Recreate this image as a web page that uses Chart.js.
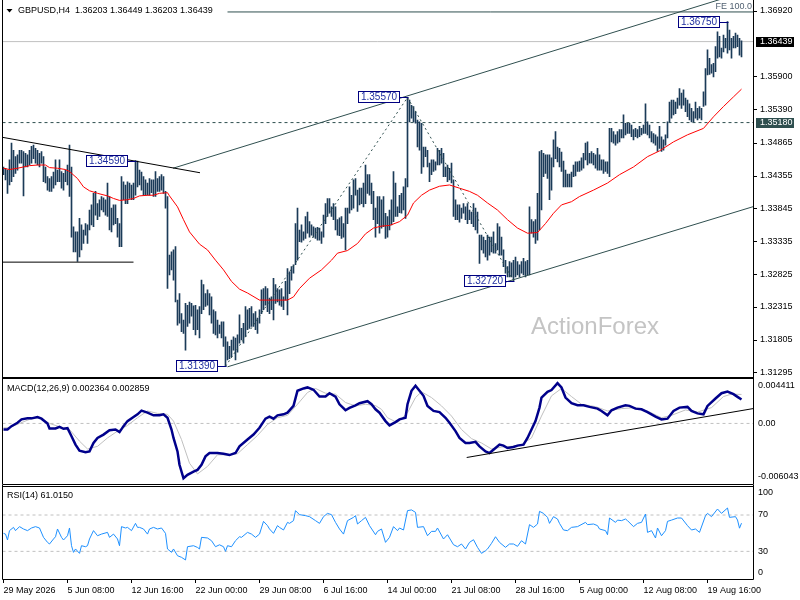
<!DOCTYPE html>
<html><head><meta charset="utf-8">
<script src="https://cdn.jsdelivr.net/npm/chart.js@4/dist/chart.umd.min.js"></script>
<style>
html,body{margin:0;padding:0;background:#fff;width:800px;height:600px;overflow:hidden}
canvas{position:absolute;left:0}
</style></head><body>
<canvas id="cMain" width="800" height="378" style="top:0px"></canvas>
<canvas id="cMacd" width="800" height="109" style="top:377px"></canvas>
<canvas id="cRsi" width="800" height="115" style="top:485px"></canvas>
<script>
// ---------- DATA ----------
const titleText = 'GBPUSD,H4  1.36203 1.36449 1.36203 1.36439';
const macdTitle = 'MACD(12,26,9) 0.002364 0.002859';
const rsiTitle = 'RSI(14) 61.0150';
const watermark = 'ActionForex';

const xTickIdx = [0,32,64,96,128,160,192,224,256,288,320,352];
const xTickLabels = ['29 May 2026','5 Jun 08:00','12 Jun 16:00','22 Jun 00:00','29 Jun 08:00','6 Jul 16:00','14 Jul 00:00','21 Jul 08:00','28 Jul 16:00','5 Aug 00:00','12 Aug 08:00','19 Aug 16:00'];

const priceTicks = [1.36920,1.35900,1.35390,1.34865,1.34355,1.33845,1.33335,1.32825,1.32315,1.31805,1.31295];
const currentPrice = 1.36439;
const levelPrice = 1.35180;
const feLevel = 1.3690;

const barHigh = [
1.3449,1.3447,1.3444,1.3460,1.3486,1.3475,1.3465,1.3468,1.3475,1.3475,
1.3473,1.3470,1.3468,1.3475,1.3481,1.3483,1.3478,1.3475,1.3470,1.3473,
1.3465,1.3449,1.3434,1.3431,1.3434,1.3441,1.3460,1.3444,1.3460,1.3442,
1.3439,1.3444,1.3452,1.3483,1.3449,1.3356,1.3348,1.3348,1.3369,1.3359,
1.3351,1.3361,1.3359,1.3382,1.3390,1.3408,1.3411,1.3392,1.3398,1.3403,
1.3401,1.3398,1.3424,1.3403,1.3385,1.3390,1.3390,1.3369,1.3361,1.3434,
1.3426,1.3421,1.3426,1.3424,1.3421,1.3424,1.3459,1.3458,1.3444,1.3441,
1.3434,1.3429,1.3424,1.3431,1.3429,1.3429,1.3442,1.3431,1.3434,1.3437,
1.3434,1.3411,1.3403,1.3312,1.3317,1.3320,1.3325,1.3242,1.3252,1.3221,
1.3211,1.3237,1.3234,1.3239,1.3237,1.3233,1.3234,1.3227,1.3232,1.3273,
1.3266,1.3252,1.3258,1.3252,1.3247,1.3227,1.3224,1.3211,1.3203,1.3208,
1.3208,1.3185,1.3177,1.3170,1.3180,1.3185,1.3183,1.3188,1.3219,1.3198,
1.3206,1.3232,1.3227,1.3229,1.3232,1.3221,1.3224,1.3214,1.3227,1.3258,
1.3260,1.3263,1.3260,1.3245,1.3247,1.3276,1.3266,1.3260,1.3258,1.3260,
1.3247,1.3271,1.3291,1.3286,1.3294,1.3297,1.3361,1.3385,1.3351,1.3359,
1.3348,1.3372,1.3379,1.3364,1.3359,1.3356,1.3354,1.3355,1.3354,1.3348,
1.3374,1.3392,1.3400,1.3400,1.3387,1.3392,1.3387,1.3367,1.3370,1.3372,
1.3361,1.3385,1.3385,1.3418,1.3405,1.3429,1.3431,1.3413,1.3416,1.3416,
1.3424,1.3452,1.3437,1.3437,1.3424,1.3411,1.3385,1.3403,1.3403,1.3398,
1.3403,1.3377,1.3372,1.3382,1.3398,1.3442,1.3424,1.3387,1.3405,1.3408,
1.3418,1.3431,1.3557,1.3553,1.3545,1.3543,1.3535,1.3522,1.3519,1.3517,
1.3480,1.3480,1.3475,1.3455,1.3460,1.3460,1.3457,1.3478,1.3475,1.3478,
1.3470,1.3449,1.3452,1.3447,1.3455,1.3429,1.3398,1.3390,1.3390,1.3385,
1.3392,1.3387,1.3392,1.3382,1.3379,1.3392,1.3385,1.3379,1.3343,1.3343,
1.3340,1.3335,1.3343,1.3340,1.3340,1.3348,1.3330,1.3361,1.3356,1.3340,
1.3320,1.3304,1.3294,1.3302,1.3300,1.3304,1.3309,1.3302,1.3297,1.3302,
1.3307,1.3302,1.3304,1.3387,1.3367,1.3364,1.3367,1.3408,1.3473,1.3475,
1.3470,1.3468,1.3468,1.3468,1.3463,1.3491,1.3504,1.3480,1.3478,1.3472,
1.3458,1.3444,1.3438,1.3438,1.3441,1.3452,1.3457,1.3457,1.3458,1.3463,
1.3470,1.3486,1.3488,1.3470,1.3473,1.3470,1.3468,1.3478,1.3468,1.3460,
1.3460,1.3457,1.3457,1.3509,1.3509,1.3504,1.3499,1.3504,1.3507,1.3507,
1.3530,1.3517,1.3517,1.3517,1.3514,1.3507,1.3509,1.3507,1.3512,1.3509,
1.3514,1.3547,1.3519,1.3514,1.3504,1.3501,1.3499,1.3496,1.3512,1.3496,
1.3491,1.3499,1.3519,1.3550,1.3553,1.3553,1.3550,1.3556,1.3571,1.3564,
1.3569,1.3556,1.3553,1.3547,1.3540,1.3535,1.3550,1.3540,1.3543,1.3540,
1.3566,1.3602,1.3631,1.3618,1.3608,1.3610,1.3636,1.3659,1.3652,1.3634,
1.3654,1.3649,1.3675,1.3662,1.3649,1.3652,1.3657,1.3654,1.3649,1.3645];

const barLow = [
1.3437,1.3429,1.3408,1.3421,1.3426,1.3434,1.3439,1.3444,1.3455,1.3455,
1.3404,1.3449,1.3449,1.3452,1.3455,1.3462,1.3455,1.3452,1.3449,1.3455,
1.3426,1.3424,1.3413,1.3411,1.3411,1.3416,1.3421,1.3426,1.3426,1.3416,
1.3413,1.3426,1.3421,1.3403,1.3340,1.3317,1.3317,1.3302,1.3309,1.3320,
1.3330,1.3343,1.3330,1.3351,1.3359,1.3356,1.3374,1.3367,1.3372,1.3382,
1.3379,1.3374,1.3372,1.3351,1.3348,1.3359,1.3361,1.3340,1.3325,1.3325,
1.3398,1.3392,1.3392,1.3400,1.3398,1.3398,1.3405,1.3418,1.3421,1.3413,
1.3405,1.3405,1.3405,1.3405,1.3409,1.3403,1.3403,1.3411,1.3411,1.3413,
1.3408,1.3385,1.3260,1.3281,1.3289,1.3273,1.3239,1.3203,1.3206,1.3193,
1.3190,1.3164,1.3201,1.3206,1.3217,1.3196,1.3188,1.3196,1.3183,1.3221,
1.3227,1.3232,1.3234,1.3219,1.3206,1.3190,1.3188,1.3183,1.3190,1.3183,
1.3170,1.3139,1.3149,1.3151,1.3154,1.3164,1.3149,1.3161,1.3175,1.3180,
1.3175,1.3185,1.3196,1.3198,1.3201,1.3201,1.3196,1.3190,1.3206,1.3221,
1.3227,1.3234,1.3224,1.3221,1.3227,1.3211,1.3237,1.3239,1.3234,1.3232,
1.3227,1.3242,1.3219,1.3252,1.3273,1.3284,1.3297,1.3304,1.3333,1.3332,
1.3335,1.3338,1.3346,1.3340,1.3343,1.3340,1.3338,1.3335,1.3335,1.3330,
1.3340,1.3361,1.3372,1.3377,1.3372,1.3367,1.3351,1.3343,1.3342,1.3338,
1.3340,1.3320,1.3361,1.3377,1.3382,1.3385,1.3405,1.3380,1.3390,1.3392,
1.3387,1.3392,1.3408,1.3405,1.3392,1.3367,1.3340,1.3361,1.3346,1.3354,
1.3356,1.3338,1.3340,1.3351,1.3359,1.3364,1.3372,1.3372,1.3378,1.3377,
1.3382,1.3369,1.3418,1.3519,1.3525,1.3519,1.3517,1.3480,1.3475,1.3439,
1.3449,1.3465,1.3449,1.3426,1.3437,1.3442,1.3444,1.3452,1.3452,1.3455,
1.3434,1.3434,1.3426,1.3429,1.3424,1.3372,1.3367,1.3367,1.3363,1.3369,
1.3377,1.3367,1.3361,1.3367,1.3361,1.3356,1.3351,1.3346,1.3299,1.3320,
1.3315,1.3309,1.3304,1.3312,1.3317,1.3315,1.3315,1.3320,1.3312,1.3312,
1.3294,1.3284,1.3278,1.3278,1.3278,1.3272,1.3278,1.3281,1.3278,1.3284,
1.3281,1.3278,1.3281,1.3281,1.3346,1.3340,1.3330,1.3335,1.3351,1.3382,
1.3434,1.3439,1.3431,1.3398,1.3413,1.3449,1.3462,1.3457,1.3449,1.3442,
1.3418,1.3418,1.3418,1.3418,1.3418,1.3434,1.3435,1.3442,1.3442,1.3444,
1.3447,1.3460,1.3452,1.3455,1.3455,1.3452,1.3447,1.3444,1.3444,1.3444,
1.3439,1.3442,1.3439,1.3434,1.3488,1.3486,1.3483,1.3486,1.3488,1.3494,
1.3494,1.3499,1.3501,1.3501,1.3496,1.3491,1.3496,1.3494,1.3496,1.3499,
1.3501,1.3501,1.3499,1.3494,1.3488,1.3486,1.3483,1.3473,1.3478,1.3473,
1.3475,1.3483,1.3494,1.3519,1.3525,1.3530,1.3532,1.3540,1.3545,1.3540,
1.3545,1.3535,1.3527,1.3522,1.3519,1.3519,1.3525,1.3522,1.3525,1.3522,
1.3543,1.3545,1.3592,1.3593,1.3595,1.3589,1.3597,1.3618,1.3620,1.3618,
1.3628,1.3634,1.3626,1.3631,1.3618,1.3634,1.3634,1.3636,1.3623,1.3620];

const maLine = [[0,1.3447],[3,1.3445],[7,1.3447],[10,1.3449],[13,1.3451],[17,1.3452],[21,1.3452],[23,1.3448],[27,1.3447],[31,1.3445],[33,1.3442],[37,1.3431],[40,1.3418],[43,1.3412],[47,1.3408],[52,1.3404],[55,1.3400],[58,1.3397],[62,1.3398],[65,1.3400],[68,1.3404],[72,1.3405],[75,1.3405],[78,1.3408],[82,1.3409],[83,1.3404],[87,1.3387],[90,1.3367],[93,1.3348],[98,1.3329],[102,1.3320],[106,1.3304],[110,1.3289],[114,1.3271],[118,1.3259],[122,1.3253],[128,1.3242],[135,1.3242],[142,1.3242],[145,1.3247],[148,1.3260],[153,1.3276],[159,1.3289],[164,1.3304],[167,1.3315],[172,1.3319],[177,1.3330],[181,1.3345],[185,1.3354],[189,1.3357],[193,1.3358],[198,1.3364],[202,1.3374],[205,1.3393],[209,1.3405],[213,1.3413],[218,1.3419],[223,1.3421],[228,1.3416],[233,1.3411],[237,1.3405],[242,1.3393],[247,1.3382],[252,1.3367],[257,1.3354],[262,1.3346],[267,1.3347],[271,1.3361],[275,1.3377],[279,1.3390],[284,1.3395],[288,1.3403],[295,1.3413],[302,1.3424],[308,1.3437],[315,1.3449],[322,1.3465],[328,1.3474],[335,1.3488],[342,1.3499],[350,1.3509],[355,1.3527],[360,1.3543],[365,1.3558],[369,1.3570]];

const swingLabels = [[66,1.34590],[111,1.31390],[202,1.35570],[255,1.32720],[362,1.36750]];

const downTrend = [[-0.4,1.3495],[98.25,1.3440]];
const supportLine = [[-0.5,1.3301],[65,1.3301]];
const channelTop = [[84.75,1.3447],[365,1.37159]];
const channelBottom = [[112,1.31382],[374.75,1.33872]];
const zigzag = [[111,1.3139],[202,1.3557],[255,1.3272]];
const feLine = [[112,feLevel],[374.75,feLevel]];

const macdMain = [[0,-0.0006],[2,-0.0006],[4,-0.00027],[7,0.00007],[9,0.0004],[12,0.0005],[14,0.0005],[17,0.00063],[19,0.00047],[22,0],[23,-0.0005],[26,-0.0005],[28,-0.00033],[30,-0.00053],[32,-0.00047],[34,-0.00126],[36,-0.00209],[38,-0.00269],[41,-0.00285],[43,-0.00276],[45,-0.00193],[47,-0.00143],[50,-0.0011],[53,-0.00067],[56,-0.0006],[58,-0.00086],[60,-0.00027],[62,0.00023],[65,0.00063],[67,0.0009],[69,0.00126],[72,0.00106],[75,0.0008],[78,0.0008],[80,0.0009],[82,0.00056],[84,-0.0006],[85,-0.00143],[87,-0.00276],[88,-0.00408],[90,-0.00541],[92,-0.00507],[95,-0.00475],[97,-0.00458],[99,-0.00408],[101,-0.00325],[103,-0.00292],[107,-0.00292],[110,-0.00299],[113,-0.00312],[116,-0.00292],[118,-0.00226],[122,-0.00159],[125,-0.0011],[128,-0.00043],[131,0.00047],[133,0.00067],[135,0.00047],[137,0.0008],[140,0.0009],[142,0.00106],[145,0.00173],[147,0.00322],[150,0.00345],[152,0.00355],[155,0.00332],[158,0.00265],[161,0.00265],[163,0.00298],[166,0.00265],[168,0.00189],[171,0.0013],[173,0.00153],[176,0.00179],[178,0.00199],[182,0.00219],[184,0.00189],[186,0.00139],[188,0.00106],[191,0.00023],[193,-0.0002],[196,0.00013],[198,0.0004],[201,0.00056],[202,0.00189],[204,0.00322],[206,0.00372],[208,0.00322],[210,0.00272],[212,0.00173],[215,0.00123],[218,0.00112],[221,0.00056],[223,0.00007],[226,-0.00076],[228,-0.00143],[231,-0.00193],[233,-0.00193],[236,-0.00182],[238,-0.00226],[241,-0.00276],[243,-0.00292],[246,-0.00242],[248,-0.00209],[250,-0.00219],[252,-0.00242],[255,-0.00233],[257,-0.00219],[260,-0.00209],[262,-0.00143],[264,-0.0006],[266,0.00023],[268,0.00156],[269,0.00255],[272,0.00312],[274,0.00329],[277,0.00398],[279,0.00354],[281,0.00255],[284,0.00199],[287,0.00179],[290,0.00179],[293,0.00163],[297,0.00146],[299,0.00123],[302,0.0008],[304,0.0013],[307,0.00156],[311,0.00179],[313,0.00173],[316,0.00146],[319,0.00139],[322,0.00112],[326,0.00067],[329,0.0004],[332,0.00047],[335,0.00123],[338,0.00156],[342,0.00163],[344,0.00123],[347,0.00099],[350,0.0009],[352,0.00173],[356,0.00246],[359,0.00298],[362,0.00315],[365,0.00289],[367,0.00262],[369,0.00236]];

const macdSignal = [[0,-0.00043],[3,-0.00043],[8,0],[13,0.0004],[18,0.00056],[23,0],[28,-0.00033],[33,-0.0006],[38,-0.00175],[42,-0.00252],[47,-0.00226],[52,-0.00143],[57,-0.00076],[62,-0.0002],[67,0.00056],[72,0.00123],[77,0.00099],[82,0.0009],[85,0.00023],[89,-0.00159],[93,-0.00392],[97,-0.00498],[102,-0.00424],[107,-0.00309],[112,-0.00309],[117,-0.00299],[122,-0.00209],[127,-0.00119],[132,-0.0001],[137,0.00056],[142,0.0008],[147,0.00189],[152,0.00305],[156,0.00345],[161,0.00298],[166,0.00289],[171,0.00206],[176,0.00173],[181,0.00189],[186,0.00176],[189,0.00139],[192,0.00056],[197,0.00007],[202,0.00106],[206,0.00255],[209,0.00312],[214,0.00255],[219,0.00173],[224,0.00073],[229,-0.0006],[234,-0.0015],[239,-0.00193],[244,-0.00252],[249,-0.00233],[254,-0.00226],[259,-0.00209],[264,-0.00143],[269,0.00073],[274,0.00272],[279,0.00345],[284,0.00265],[289,0.00189],[296,0.00166],[302,0.00123],[309,0.00146],[316,0.00156],[322,0.00123],[329,0.00056],[334,0.0008],[341,0.00133],[347,0.00112],[354,0.00156],[360,0.00265],[364,0.00289],[369,0.00286]];

const macdTrend = [[231.6,-0.00336],[374.75,0.00146]];
const macdMin = -0.006043, macdMax = 0.004411;

const rsiLine = [[0,49.8],[1,49],[2,42.5],[3,52.8],[5,56.4],[6,52.8],[8,57.2],[10,54.6],[12,52.8],[14,55.7],[16,57.2],[18,55.7],[20,45.4],[22,39.9],[23,38.1],[25,43.6],[26,46.1],[27,54.6],[29,45.4],[30,42.5],[32,47.2],[33,55.7],[34,36.2],[35,28.9],[36,32.6],[38,27.8],[39,36.2],[41,35.1],[42,36.2],[43,43.6],[45,52.8],[47,47.2],[49,49],[52,50.9],[53,45.4],[55,49],[57,43.6],[58,36.2],[59,57.2],[61,55.7],[62,56.4],[64,52.8],[66,60.8],[67,56.4],[68,56.4],[70,54.6],[72,49],[73,54.6],[75,56.4],[77,54.6],[79,55.7],[81,49.8],[82,32.6],[84,28.9],[85,32.6],[87,25.2],[89,23.4],[91,20.5],[92,35.1],[95,36.2],[97,34.3],[98,32.6],[99,45.4],[102,44.7],[104,41.7],[106,35.1],[108,37.2],[110,35.1],[111,30],[112,36.2],[114,35.1],[116,41.7],[118,46.1],[119,45.4],[122,50.9],[124,49],[126,45.4],[128,49],[130,63],[132,58.3],[133,54.6],[135,49.8],[137,58.3],[138,56.4],[140,53.5],[142,61.9],[143,60.8],[145,63.8],[146,74.8],[148,70.4],[151,69.3],[153,68.2],[156,63.8],[158,60.8],[160,68.2],[162,71.8],[164,70.4],[166,61.9],[168,54.6],[170,49],[172,63.8],[175,67.4],[176,69.3],[177,60.1],[179,63.8],[181,67.4],[183,58.3],[186,48.3],[187,52],[189,54.6],[191,39.9],[193,45.4],[195,57.2],[197,52.8],[198,55.7],[200,53.5],[202,74.8],[204,75.6],[206,72.9],[207,56.4],[210,57.2],[212,47.2],[214,52],[216,52],[217,55.7],[220,43.6],[222,48.3],[225,37.3],[227,35.1],[229,38.1],[231,32.6],[233,39.9],[235,42.8],[237,34.4],[239,27.8],[241,30.7],[242,32.6],[244,38.8],[246,46.1],[248,39.9],[251,34.4],[253,38.1],[255,38.1],[257,35.5],[259,41.7],[261,38.1],[263,59.4],[265,56.4],[267,60.1],[268,74],[270,71.8],[272,67.4],[273,60.8],[275,68.2],[277,65.6],[278,60.8],[280,53.5],[282,52.8],[284,56.4],[287,57.2],[291,61.9],[292,59.4],[295,60.1],[297,58.3],[298,54.6],[301,52.8],[302,48.3],[303,66.7],[306,61.9],[307,64.4],[309,63.8],[311,65.6],[312,63.8],[315,57.2],[317,60.8],[319,61.9],[321,71.1],[322,50.9],[324,52.8],[326,44.7],[327,55.7],[329,47.2],[331,52.8],[332,63],[334,64.4],[337,66.7],[339,66.7],[342,58.3],[344,53.5],[346,54.6],[348,50.9],[351,69.3],[352,71.8],[354,68.2],[357,76.6],[359,71.8],[362,77.7],[363,67.4],[366,68.2],[367,64.5],[368,55.5],[369,61.0]];
const rsiTicks = [[100,'100'],[70,'70'],[30,'30'],[0,'0']];
const macdTicks = [[macdMax,'0.004411'],[0,'0.00'],[macdMin,'-0.006043']];

// ---------- HELPERS ----------
const FAM = '"Liberation Sans", Arial, sans-serif';
const AXIS_FONT = '9px ' + FAM;
Chart.defaults.font.family = FAM;
Chart.defaults.font.size = 9;
const XMIN = -0.5, XMAX = 374.75;
const P = arr => arr.map(([x, y]) => ({x, y}));
function lineDs(data, color, extra) {
  return Object.assign({type:'line', data, borderColor:color, borderWidth:1, pointRadius:0, tension:0, fill:false}, extra || {});
}
const hiddenX = {type:'linear', min:XMIN, max:XMAX, display:false, offset:false, bounds:'data', grid:{offset:false}};

function drawFrame(chart, sides) {
  const {ctx, chartArea:a} = chart;
  const l = Math.floor(a.left)+0.5, r = Math.floor(a.right)+0.5, t = Math.floor(a.top)+0.5, b = Math.floor(a.bottom)+0.5;
  ctx.save(); ctx.strokeStyle = '#000'; ctx.lineWidth = 1; ctx.beginPath();
  if (sides.includes('t')) { ctx.moveTo(l, t); ctx.lineTo(r, t); }
  if (sides.includes('b')) { ctx.moveTo(l, b); ctx.lineTo(r, b); }
  if (sides.includes('l')) { ctx.moveTo(l, 0); ctx.lineTo(l, b); }
  if (sides.includes('r')) { ctx.moveTo(r, 0); ctx.lineTo(r, b); }
  ctx.stroke(); ctx.restore();
}
function drawRightLabels(chart, items, opt) {
  const {ctx, chartArea:a} = chart; const ys = chart.scales.y;
  ctx.save(); ctx.font = AXIS_FONT; ctx.fillStyle = '#000'; ctx.strokeStyle = '#000'; ctx.lineWidth = 1;
  ctx.textAlign = 'left'; ctx.textBaseline = 'middle';
  for (const [v, t] of items) {
    let y = ys.getPixelForValue(v);
    y = Math.max(a.top + opt.top, Math.min(a.bottom - opt.bottom, y));
    if (opt.ticks) { const yy = Math.round(y) + 0.5; ctx.beginPath(); ctx.moveTo(a.right, yy); ctx.lineTo(a.right + 4, yy); ctx.stroke(); }
    ctx.fillText(t, a.right + opt.dx, y);
  }
  ctx.restore();
}

// ---------- MAIN CHART ----------
const mainDeco = {
  id: 'mainDeco',
  beforeDatasetsDraw(chart) {
    const {ctx} = chart;
    ctx.save(); ctx.font = '24px ' + FAM; ctx.fillStyle = '#c4c4c4';
    ctx.textAlign = 'center'; ctx.textBaseline = 'middle';
    ctx.fillText(watermark, 595, 327); ctx.restore();
  },
  afterDatasetsDraw(chart) {
    const {ctx} = chart; const xs = chart.scales.x, ys = chart.scales.y;
    ctx.save(); ctx.font = '10px ' + FAM; ctx.textAlign = 'center'; ctx.textBaseline = 'middle';
    for (const [i, p] of swingLabels) {
      const x = xs.getPixelForValue(i), y = Math.round(ys.getPixelForValue(p));
      const t = p.toFixed(5);
      const w = Math.round(ctx.measureText(t).width) + 6, h = 12;
      const right = Math.round(x - 8);
      ctx.strokeStyle = '#000080'; ctx.lineWidth = 1;
      ctx.beginPath(); ctx.moveTo(right, y + 0.5); ctx.lineTo(Math.round(x) + 0.5, y + 0.5); ctx.stroke();
      ctx.fillStyle = '#fff'; ctx.fillRect(right - w, y - h/2, w, h);
      ctx.strokeRect(right - w + 0.5, y - h/2 + 0.5, w - 1, h - 1);
      ctx.fillStyle = '#1f2fa0'; ctx.fillText(t, right - w/2, y + 0.5);
    }
    ctx.restore();
  },
  afterDraw(chart) {
    const {ctx, chartArea:a} = chart; const ys = chart.scales.y;
    drawFrame(chart, 'lrb');
    drawRightLabels(chart, priceTicks.map(v => [v, v.toFixed(5)]), {top:4, bottom:4, dx:7, ticks:true});
    ctx.save(); ctx.font = AXIS_FONT; ctx.textBaseline = 'middle'; ctx.textAlign = 'left';
    const boxes = [[currentPrice, '#000000'], [levelPrice, '#2f4f4f']];
    for (const [v, bg] of boxes) {
      const y = ys.getPixelForValue(v);
      ctx.fillStyle = bg; ctx.fillRect(a.right + 3, Math.round(y) - 5, 38, 10);
      ctx.fillStyle = '#fff'; ctx.fillText(v.toFixed(5), a.right + 7, y);
    }
    // FE label
    ctx.fillStyle = '#4f5f70'; ctx.textAlign = 'right'; ctx.textBaseline = 'bottom';
    ctx.fillText('FE 100.0', a.right - 1, ys.getPixelForValue(feLevel) - 1);
    // title
    ctx.fillStyle = '#000'; ctx.beginPath(); ctx.moveTo(6.5, 9); ctx.lineTo(12.5, 9); ctx.lineTo(9.5, 12.5); ctx.closePath(); ctx.fill();
    ctx.textAlign = 'left'; ctx.textBaseline = 'middle';
    ctx.fillText(titleText, 18, 10.5);
    ctx.restore();
  }
};

new Chart(document.getElementById('cMain'), {
  type: 'bar',
  data: { datasets: [
    lineDs(P([[XMIN, currentPrice],[XMAX, currentPrice]]), '#c0c0c0', {order:20}),
    lineDs(P([[XMIN, levelPrice],[XMAX, levelPrice]]), '#2f4f4f', {borderDash:[3,3], order:19}),
    { type:'bar', data: barHigh.map((h, i) => ({x:i, y:[barLow[i], h]})), backgroundColor:'#1b3b58', borderWidth:0, barThickness:1, order:10 },
    lineDs(P(maLine), '#ff0000', {order:5}),
    lineDs(P(downTrend), '#000000', {order:3}),
    lineDs(P(supportLine), '#000000', {order:3}),
    lineDs(P(channelTop), '#2f4f4f', {order:3}),
    lineDs(P(channelBottom), '#2f4f4f', {order:3}),
    lineDs(P(zigzag), '#2f4f4f', {borderDash:[2,3], order:3}),
    lineDs(P(feLine), '#2f4f4f', {order:3})
  ]},
  options: {
    responsive:false, animation:false, devicePixelRatio:1, events:[],
    layout:{padding:{left:2.5, right:47, top:0, bottom:1}},
    scales:{ x: hiddenX, y:{type:'linear', min:1.31224, max:1.37086, display:false, beginAtZero:false, bounds:'data'} },
    plugins:{legend:{display:false}, tooltip:{enabled:false}}
  },
  plugins:[mainDeco]
});

// ---------- MACD ----------
const macdDeco = {
  id:'macdDeco',
  afterDraw(chart) {
    drawFrame(chart, 'lrtb');
    drawRightLabels(chart, macdTicks, {top:6.5, bottom:8.5, dx:5, ticks:false});
    const {ctx} = chart; ctx.save(); ctx.font = AXIS_FONT; ctx.fillStyle = '#000'; ctx.textBaseline = 'middle';
    ctx.fillText(macdTitle, 7, 11.7); ctx.restore();
  }
};
new Chart(document.getElementById('cMacd'), {
  type:'line',
  data:{ datasets:[
    lineDs(P([[XMIN,0],[XMAX,0]]), '#c0c0c0', {borderDash:[3,3], order:10}),
    lineDs(P(macdSignal), '#c0c0c0', {order:4}),
    lineDs(P(macdMain), '#00008b', {borderWidth:2.5, order:3}),
    lineDs(P(macdTrend), '#000000', {order:1})
  ]},
  options:{
    responsive:false, animation:false, devicePixelRatio:1, events:[],
    layout:{padding:{left:2.5, right:47, top:1.7, bottom:1.3}},
    scales:{ x: hiddenX, y:{type:'linear', min:macdMin, max:macdMax, display:false, bounds:'data'} },
    plugins:{legend:{display:false}, tooltip:{enabled:false}}
  },
  plugins:[macdDeco]
});

// ---------- RSI ----------
const rsiDeco = {
  id:'rsiDeco',
  afterDraw(chart) {
    drawFrame(chart, 'lrtb');
    drawRightLabels(chart, rsiTicks, {top:6, bottom:6, dx:5, ticks:false});
    const {ctx} = chart; ctx.save(); ctx.font = AXIS_FONT; ctx.fillStyle = '#000'; ctx.textBaseline = 'middle';
    ctx.fillText(rsiTitle, 7, 10.7); ctx.restore();
  }
};
new Chart(document.getElementById('cRsi'), {
  type:'line',
  data:{ datasets:[
    lineDs(P([[XMIN,70],[XMAX,70]]), '#c0c0c0', {borderDash:[3,3], order:10}),
    lineDs(P([[XMIN,30],[XMAX,30]]), '#c0c0c0', {borderDash:[3,3], order:10}),
    lineDs(P(rsiLine), '#1e90ff', {order:2})
  ]},
  options:{
    responsive:false, animation:false, devicePixelRatio:1, events:[],
    layout:{padding:{left:2.5, right:47, top:1.7, bottom:0}},
    scales:{
      x:{ type:'linear', min:XMIN, max:XMAX, offset:false, bounds:'data', position:'bottom',
        afterBuildTicks: s => { s.ticks = xTickIdx.map(v => ({value:v})); },
        afterFit: s => { s.height = 21; },
        ticks:{ autoSkip:false, maxRotation:0, minRotation:0, align:'start', padding:2, color:'#000', font:{size:9, family:FAM},
          callback:(v, i) => xTickLabels[i] },
        grid:{ display:true, drawOnChartArea:false, drawTicks:true, tickLength:4, color:'#000', lineWidth:1, offset:false },
        border:{ display:false } },
      y:{ type:'linear', min:-0.44, max:101.16, display:false, bounds:'data' }
    },
    plugins:{legend:{display:false}, tooltip:{enabled:false}}
  },
  plugins:[rsiDeco]
});
</script>
</body></html>
